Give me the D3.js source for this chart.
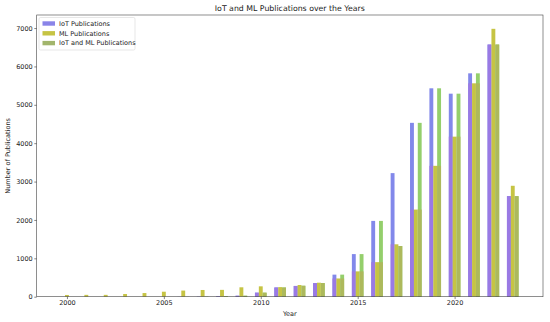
<!DOCTYPE html>
<html><head><meta charset="utf-8">
<script src="https://cdn.jsdelivr.net/npm/d3@7"></script>
<style>body{margin:0;background:#fff}svg{display:block;font-family:"DejaVu Sans",sans-serif}</style>
</head><body><svg id="c" width="550" height="322"></svg>
<script>
const years = d3.range(2000, 2024);
const iotPubs = [0,0,0,0,0,0,2,5,15,25,105,240,280,355,575,1110,1975,3220,4530,5430,5290,5820,6570,2620];
const mlPubs = [45,48,48,70,95,130,160,175,178,245,270,250,305,365,475,660,900,1365,2270,3410,4170,5560,6980,2890];
const iotMlPubs = [0,0,0,0,0,0,2,5,15,25,105,240,285,355,575,1110,1975,1320,4530,5430,5290,5820,6570,2620];
const yTicks = [0,1000,2000,3000,4000,5000,6000,7000];
const xTicks = [2000,2005,2010,2015,2020];
const seriesNames = ["IoT Publications","ML Publications","IoT and ML Publications"];
const colors = ["#8288ea","#c6c444","#94cf6c"];
const overlapColors = ["#9a7ae4", null, "#adb95c"];
const legendColors = ["#8a84e8","#c6c444","#a2b56c"];

const svg = d3.select("#c");
const L = 36.7, R = 543, T = 15, B = 296.7;
const x = d3.scaleLinear().domain([1998.44, 2024.56]).range([L, R]);
const y = d3.scaleLinear().domain([0, 7340]).range([B, T]);
const w = 0.2;

const series = [iotPubs, mlPubs, iotMlPubs];
const offsets = [-0.2, 0, 0.2];
series.forEach((vals, s) => {
  const g = svg.append("g");
  const x0 = (d) => x(d + offsets[s] - w/2);
  const bw = (d) => x(d + offsets[s] + w/2) - x(d + offsets[s] - w/2);
  g.selectAll("rect.full").data(years).join("rect").attr("class", "full")
    .attr("x", x0).attr("width", bw)
    .attr("y", (d, i) => y(vals[i]))
    .attr("height", (d, i) => y(0) - y(vals[i]))
    .attr("fill", colors[s]);
  if (overlapColors[s]) {
    g.selectAll("rect.ov").data(years).join("rect").attr("class", "ov")
      .attr("x", x0).attr("width", bw)
      .attr("y", (d, i) => y(Math.min(vals[i], mlPubs[i])))
      .attr("height", (d, i) => y(0) - y(Math.min(vals[i], mlPubs[i])))
      .attr("fill", overlapColors[s]);
  }
});

// axes
const fs = 6.5;
const xAxis = svg.append("g").attr("transform", `translate(0,${B})`)
  .call(d3.axisBottom(x).tickValues(xTicks).tickFormat(d3.format("d")).tickSize(2.4).tickPadding(1.6));
const yAxis = svg.append("g").attr("transform", `translate(${L},0)`)
  .call(d3.axisLeft(y).tickValues(yTicks).tickFormat(d3.format("d")).tickSize(2.4).tickPadding(1.6));
[xAxis, yAxis].forEach(a => {
  a.select(".domain").remove();
  a.selectAll("line").attr("stroke", "#333").attr("stroke-width", 0.6);
  a.selectAll("text").attr("font-size", fs).attr("fill", "#222").attr("font-family", "DejaVu Sans");
});
svg.append("rect").attr("x", L).attr("y", T).attr("width", R - L).attr("height", B - T)
  .attr("fill", "none").attr("stroke", "#444").attr("stroke-width", 0.6);

svg.append("text").attr("x", (L + R) / 2).attr("y", 11).attr("text-anchor", "middle")
  .attr("font-size", 7.8).attr("fill", "#222").text("IoT and ML Publications over the Years");
svg.append("text").attr("x", (L + R) / 2).attr("y", 316).attr("text-anchor", "middle")
  .attr("font-size", fs).attr("fill", "#222").text("Year");
svg.append("text").attr("transform", `translate(10,${(T + B) / 2}) rotate(-90)`).attr("text-anchor", "middle")
  .attr("font-size", fs).attr("fill", "#222").text("Number of Publications");

// legend
const lg = svg.append("g");
lg.append("rect").attr("x", 39).attr("y", 17.5).attr("width", 96).attr("height", 32.5).attr("rx", 1.5)
  .attr("fill", "#fff").attr("fill-opacity", 0.8).attr("stroke", "#d6d6d6").attr("stroke-width", 0.6);
seriesNames.forEach((n, i) => {
  const yy = 23.5 + i * 9.8;
  lg.append("rect").attr("x", 42.5).attr("y", yy - 2.2).attr("width", 12.5).attr("height", 4.4).attr("fill", legendColors[i]);
  lg.append("text").attr("x", 59).attr("y", yy + 2.2).attr("font-size", fs).attr("fill", "#222").text(n);
});
</script></body></html>
